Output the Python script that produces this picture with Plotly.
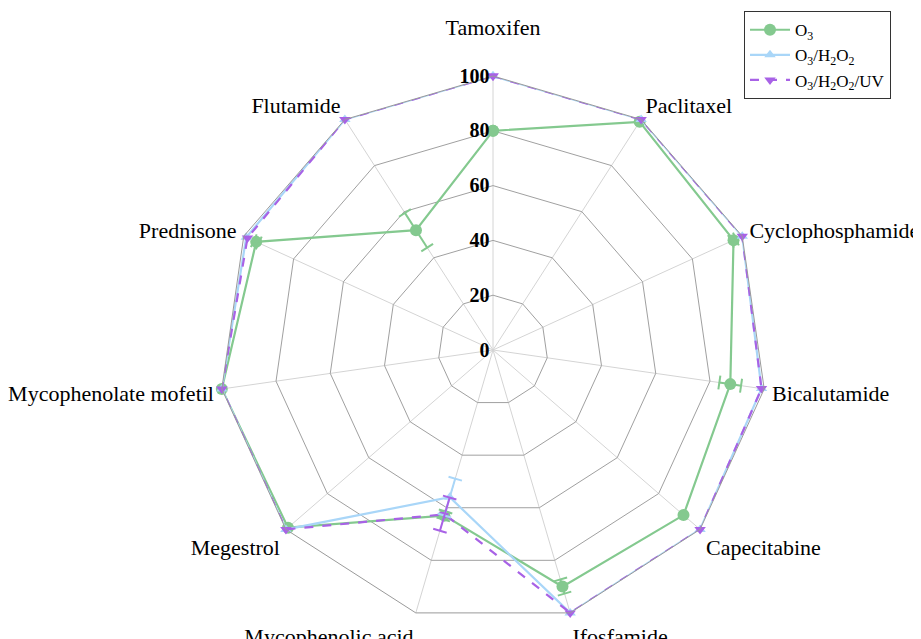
import math
import plotly.graph_objects as go

categories = ["Tamoxifen", "Paclitaxel", "Cyclophosphamide", "Bicalutamide", "Capecitabine",
              "Ifosfamide", "Mycophenolic acid", "Megestrol", "Mycophenolate mofetil",
              "Prednisone", "Flutamide"]
o3 = [80, 99, 96.5, 87.5, 92, 90, 63, 99, 100, 95, 52]
o3_err = [0, 0, 1, 4, 0, 2.7, 1.5, 0, 0, 1, 7.5]
o3h2o2 = [100, 100, 100, 99, 100, 100, 56, 100, 100, 99, 100]
o3h2o2_err = [0, 0, 0, 0, 0, 0, 7, 0, 0, 0, 0]
o3h2o2uv = [100, 100, 100, 99, 100, 100, 62.5, 100, 100, 98.5, 100]
o3h2o2uv_err = [0, 0, 0, 0, 0, 0, 6.3, 0, 0, 0, 0]
radial_ticks = [0, 20, 40, 60, 80, 100]

names = ["O<sub>3</sub>", "O<sub>3</sub>/H<sub>2</sub>O<sub>2</sub>",
         "O<sub>3</sub>/H<sub>2</sub>O<sub>2</sub>/UV"]
colors = ["#84c98f", "#a9d6f8", "#a862e6"]
symbols = ["circle", "triangle-up", "triangle-down"]
msizes = [12, 10, 10]
dashes = ["solid", "solid", "dash"]

SERIF = "Liberation Serif, Times New Roman, serif"
R_PX = 274.0   # on-screen radius of the 100 ring (style)
CAP_HALF = 7.0  # px

fig = go.Figure()

series = [(o3, o3_err), (o3h2o2, o3h2o2_err), (o3h2o2uv, o3h2o2uv_err)]
N = len(categories)
for k, (vals, errs) in enumerate(series):
    fig.add_trace(go.Scatterpolar(
        r=vals + [vals[0]], theta=categories + [categories[0]],
        mode="lines+markers", name=names[k],
        line=dict(color=colors[k], width=2.2, dash=dashes[k]),
        marker=dict(symbol=symbols[k], size=msizes[k], color=colors[k]),
        subplot="polar", showlegend=True))

# error bars on an overlaid numeric polar subplot
for k, (vals, errs) in enumerate(series):
    rr, tt = [], []
    for i, (v, e) in enumerate(zip(vals, errs)):
        if e <= 0:
            continue
        th = i * 360.0 / N
        rr += [v - e, v + e, None]
        tt += [th, th, None]
        for rv in (v - e, v + e):
            d = math.degrees(CAP_HALF / (rv / 100.0 * R_PX))
            rr += [rv, rv, None]
            tt += [th - d, th + d, None]
    fig.add_trace(go.Scatterpolar(
        r=rr, theta=tt, mode="lines", subplot="polar2",
        line=dict(color=colors[k], width=2), showlegend=False, hoverinfo="skip"))

# the top label sits above the "100" tick label, as in the original
tick_text = [c + ("<br> " if i == 0 else "") for i, c in enumerate(categories)]

dom_x = [211 / 921, 759 / 921]
dom_y = [23 / 639, 571 / 639]

fig.update_layout(
    width=921, height=639,
    margin=dict(l=0, r=0, t=0, b=0),
    paper_bgcolor="white",
    polar=dict(
        domain=dict(x=dom_x, y=dom_y),
        bgcolor="white",
        gridshape="linear",
        angularaxis=dict(
            type="category", categoryarray=categories, categoryorder="array",
            tickmode="array", tickvals=categories, ticktext=tick_text,
            rotation=90, direction="clockwise",
            showline=True, linecolor="#9a9a9a", linewidth=1,
            showgrid=True, gridcolor="#d4d4d4", gridwidth=1,
            ticks="outside", ticklen=3, tickcolor="rgba(0,0,0,0)",
            tickfont=dict(family=SERIF, size=22, color="black"),
        ),
        radialaxis=dict(
            range=[0, 100], tickvals=radial_ticks, ticktext=[str(t) for t in radial_ticks],
            showline=False, ticks="", showgrid=True, gridcolor="#a0a0a0", gridwidth=1,
            angle=90, side="counterclockwise", tickangle=90,
            tickfont=dict(family=SERIF, size=20, color="black", weight="bold"),
        ),
    ),
    polar2=dict(
        domain=dict(x=dom_x, y=dom_y),
        bgcolor="rgba(0,0,0,0)",
        angularaxis=dict(rotation=90, direction="clockwise", thetaunit="degrees",
                         showline=False, showgrid=False, showticklabels=False, ticks=""),
        radialaxis=dict(range=[0, 100], showline=False, showgrid=False,
                        showticklabels=False, ticks=""),
    ),
    legend=dict(
        x=736 / 921, y=0.995, xanchor="left", yanchor="top",
        bgcolor="white", bordercolor="#333333", borderwidth=1,
        font=dict(family=SERIF, size=17, color="black"),
        itemwidth=40, tracegroupgap=0,
    ),
)

fig.write_html("out.html")
